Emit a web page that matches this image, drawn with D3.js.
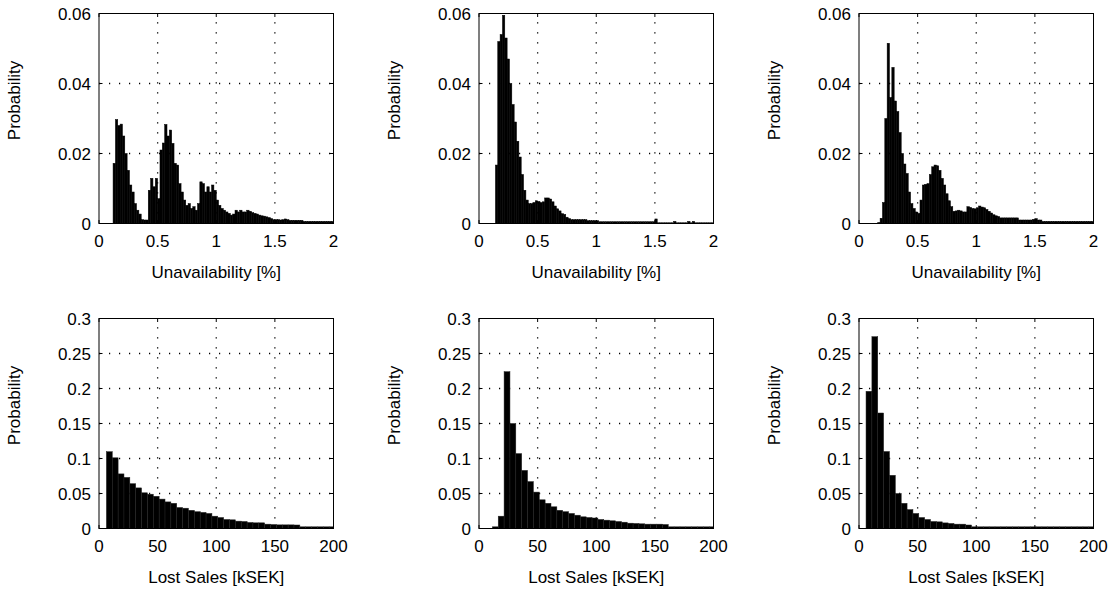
<!DOCTYPE html>
<html>
<head>
<meta charset="utf-8">
<script src="https://cdn.jsdelivr.net/npm/d3@7"></script>
<style>
  body { margin: 0; background: #fff; }
</style>
</head>
<body>
<div class="area"></div>
<script>
// tick labels
var unavailTicks = [0, 0.5, 1, 1.5, 2];
var salesTicks = [0, 50, 100, 150, 200];
var probTicksTop = [0, 0.02, 0.04, 0.06];
var probTicksBottom = [0, 0.05, 0.1, 0.15, 0.2, 0.25, 0.3];

// unavailability histograms, bins of 0.02 from 0 to 2
var unavailBinWidth = 0.02;
var unavailA = [0,0,0,0,0,0,
  0.0172,0.0297,0.028,0.0284,0.025,0.020,0.0152,0.011,0.009,0.0057,0.0038,0.0027,0.0011,0.001,0.001,
  0.0095,0.0129,0.0105,0.0129,0.0071,0.021,0.023,0.0283,0.025,0.0267,
  0.0229,0.0172,0.0167,0.0114,0.009,0.0067,0.0052,0.0057,0.0043,0.0048,
  0.0038,0.0057,0.0119,0.0114,0.009,0.0105,0.009,0.011,0.0095,0.0067,
  0.0052,0.0043,0.0038,0.0033,0.0029,0.0024,0.0027,0.0038,0.0033,0.0038,
  0.0033,0.0033,0.0038,0.0035,0.0031,0.0029,0.0027,0.0024,0.0022,0.0021,
  0.0019,0.0017,0.0014,0.0011,0.0011,0.0011,0.001,0.0011,0.0013,0.0011,
  0.0009,0.0009,0.0009,0.0009,0.0009,0.0009,
  0.0006,0.0006,0.0006,0.0006,0.0006,0.0006,0.0006,0.0006,0.0006,0.0006,0.0006,0.0006,0.0006];
var unavailB = [0,0,0,0,0,0,0,
  0.0167,0.052,0.054,0.0595,0.053,0.047,0.040,0.034,0.029,0.0235,0.019,0.014,0.0095,0.0067,
  0.0057,0.0057,0.006,0.0065,0.0063,0.006,0.0062,0.0073,0.0073,0.007,
  0.0062,0.005,0.0042,0.0036,0.0028,0.0026,0.0018,0.0014,0.0011,0.0011,
  0.0011,0.0011,0.0011,0.0011,0.0011,0.0008,0.0008,0.0008,0.0008,0.0008,
  0.0005,0.0005,0.0005,0.0005,0.0005,0.0005,0.0005,0.0005,0.0005,0.0005,0.0005,0.0005,
  0.0005,0.0005,0.0005,0.0005,0.0005,0.0005,0.0005,0.0005,0.0005,0.0005,0.0005,0.0005,
  0.0013,0.0002,0.0002,0.0002,0.0002,0.0002,0.0002,0.0002,0.0006,0.0002,0.0002,0.0002,
  0.0002,0.0002,0.0006,0.0002,0.0006,0.0002,0.0002,0.0002,0.0002,0.0002,0.0002,0.0002,0.0002];
var unavailC = [0,0,0,0,0,0,0,0,
  0.0003,0.0015,0.006,0.03,0.0515,0.036,0.0446,0.035,0.032,0.026,0.020,0.017,0.0143,
  0.009,0.0057,0.0043,0.0033,0.0029,0.0067,0.011,0.0112,0.0114,0.014,
  0.0162,0.0167,0.0165,0.0152,0.0129,0.011,0.0085,0.0065,0.0048,0.0035,
  0.0036,0.0038,0.0036,0.0033,0.0033,0.0048,0.0046,0.0043,0.0042,0.0045,
  0.005,0.0047,0.0045,0.004,0.0035,0.003,0.0025,0.0022,0.002,0.0016,
  0.0016,0.0016,0.0016,0.0016,0.0016,0.0016,0.0016,
  0.001,0.001,0.001,0.001,0.001,0.001,0.0012,0.0014,0.001,0.001,
  0.0006,0.0006,0.0006,0.0006,0.0006,0.0006,0.0006,0.0006,0.0006,0.0006,0.0006,
  0.0006,0.0006,0.0006,0.0006,0.0006,0.0006,0.0006,0.0006,0.0006,0.0006,0.0006];

// lost sales histograms, bins of 5 kSEK
var salesBinWidth = 5;
var salesStart = [6.3, 11.4, 6.0];
var salesA = [0.1097,0.101,0.078,0.073,0.064,0.058,0.051,0.049,0.046,0.042,0.038,0.036,0.030,0.029,
  0.026,0.024,0.023,0.0215,0.0176,0.0157,0.0129,0.0124,0.0105,0.010,0.0086,0.0081,0.0081,0.0062,
  0.0057,0.0052,0.0052,0.0052,0.005,0.0024,0.0024,0.0024,0.0024,0.0024,0.0024];
var salesB = [0.0024,0.0176,0.224,0.150,0.107,0.083,0.067,0.052,0.041,0.036,0.031,0.026,0.024,0.0215,
  0.019,0.0167,0.0157,0.015,0.0129,0.0119,0.011,0.010,0.009,0.0076,0.0072,0.0067,0.0062,0.0062,
  0.0062,0.0057,0.0024,0.0024,0.0024,0.0024,0.0024,0.0024,0.0024,0.0024];
var salesC = [0.196,0.274,0.165,0.110,0.076,0.050,0.036,0.027,0.0215,0.0157,0.0129,0.010,0.0095,0.008,
  0.0072,0.0062,0.0062,0.005,0.0024,0.0024,0.0024,0.0024,0.0024,0.0024,0.0024,0.0024,0.0024,0.0024,
  0.0024,0.0024,0.0024,0.0024,0.0024,0.0024,0.0024,0.0024,0.0024,0.0024,0.0024];

var font = "'Liberation Sans', Arial, sans-serif";
var panelLeft = [99, 479, 859];
var rowTop = [13.5, 318.5];
var pw = 234.5, ph = 210;
var tickLen = 3.5;

var svg = d3.select(".area")
    .append("svg")
    .attr("width", 1117)
    .attr("height", 597)
    .style("background", "#fff");

function drawPanel(id, col, row, xTicks, yTicks, bins, xLabel, edge) {
    var x = d3.scaleLinear().domain([xTicks[0], xTicks[xTicks.length - 1]]).range([0, pw]);
    var y = d3.scaleLinear().domain([yTicks[0], yTicks[yTicks.length - 1]]).range([ph, 0]);

    var g = svg.append("g")
        .attr("transform", "translate(" + panelLeft[col] + "," + rowTop[row] + ")");

    g.append("clipPath").attr("id", "clip" + id)
      .append("rect").attr("width", pw).attr("height", ph);

    // dotted grid, behind the bars
    g.selectAll(".vgrid")
        .data(xTicks.slice(1, -1))
        .enter().append("line")
        .attr("x1", function(d) { return x(d); })
        .attr("x2", function(d) { return x(d); })
        .attr("y1", ph)
        .attr("y2", 0)
        .attr("stroke", "#000")
        .attr("stroke-width", 1.3)
        .attr("stroke-dasharray", "1.2,8.8");

    g.selectAll(".hgrid")
        .data(yTicks.slice(1, -1))
        .enter().append("line")
        .attr("x1", 0)
        .attr("x2", pw)
        .attr("y1", function(d) { return y(d); })
        .attr("y2", function(d) { return y(d); })
        .attr("stroke", "#000")
        .attr("stroke-width", 1.3)
        .attr("stroke-dasharray", "1.2,8.8");

    g.append("g").attr("clip-path", "url(#clip" + id + ")")
      .selectAll("rect")
        .data(bins.filter(function(b) { return b.v > 0; }))
        .enter().append("rect")
        .attr("x", function(d) { return x(d.x0); })
        .attr("width", function(d) { return x(d.x1) - x(d.x0); })
        .attr("y", function(d) { return y(d.v); })
        .attr("height", function(d) { return ph - y(d.v); })
        .attr("fill", "#000")
        .attr("stroke", edge)
        .attr("stroke-width", 0.5);

    // inward ticks on all four sides
    xTicks.forEach(function(t) {
        g.append("line").attr("x1", x(t)).attr("x2", x(t)).attr("y1", ph).attr("y2", ph - tickLen)
            .attr("stroke", "#000");
        g.append("line").attr("x1", x(t)).attr("x2", x(t)).attr("y1", 0).attr("y2", tickLen)
            .attr("stroke", "#000");
        g.append("text")
            .attr("x", x(t))
            .attr("y", ph + 23.5)
            .attr("text-anchor", "middle")
            .attr("font-family", font)
            .attr("font-size", "17px")
            .attr("fill", "#000")
            .text(t);
    });
    yTicks.forEach(function(t) {
        g.append("line").attr("x1", 0).attr("x2", tickLen).attr("y1", y(t)).attr("y2", y(t))
            .attr("stroke", "#000");
        g.append("line").attr("x1", pw).attr("x2", pw - tickLen).attr("y1", y(t)).attr("y2", y(t))
            .attr("stroke", "#000");
        g.append("text")
            .attr("x", -8)
            .attr("y", y(t) + 6)
            .attr("text-anchor", "end")
            .attr("font-family", font)
            .attr("font-size", "17px")
            .attr("fill", "#000")
            .text(t);
    });

    g.append("rect")
        .attr("width", pw)
        .attr("height", ph)
        .attr("fill", "none")
        .attr("stroke", "#000")
        .attr("stroke-width", 1);

    g.append("text")
        .attr("x", pw / 2)
        .attr("y", ph + 54)
        .attr("text-anchor", "middle")
        .attr("font-family", font)
        .attr("font-size", "17px")
        .attr("fill", "#000")
        .text(xLabel);

    g.append("text")
        .attr("transform", "translate(-79," + (ph / 2 - 18) + ") rotate(-90)")
        .attr("text-anchor", "middle")
        .attr("font-family", font)
        .attr("font-size", "17px")
        .attr("fill", "#000")
        .text("Probability");
}

function unavailBins(vals) {
    return vals.map(function(v, i) {
        return { x0: i * unavailBinWidth, x1: (i + 1) * unavailBinWidth, v: v };
    });
}
function salesBins(vals, start) {
    return vals.map(function(v, i) {
        return { x0: start + i * salesBinWidth, x1: start + (i + 1) * salesBinWidth, v: v };
    });
}

drawPanel("a", 0, 0, unavailTicks, probTicksTop, unavailBins(unavailA), "Unavailability [%]", "#000");
drawPanel("b", 1, 0, unavailTicks, probTicksTop, unavailBins(unavailB), "Unavailability [%]", "#000");
drawPanel("c", 2, 0, unavailTicks, probTicksTop, unavailBins(unavailC), "Unavailability [%]", "#000");
drawPanel("d", 0, 1, salesTicks, probTicksBottom, salesBins(salesA, salesStart[0]), "Lost Sales [kSEK]", "#222");
drawPanel("e", 1, 1, salesTicks, probTicksBottom, salesBins(salesB, salesStart[1]), "Lost Sales [kSEK]", "#222");
drawPanel("f", 2, 1, salesTicks, probTicksBottom, salesBins(salesC, salesStart[2]), "Lost Sales [kSEK]", "#222");
</script>
</body>
</html>
